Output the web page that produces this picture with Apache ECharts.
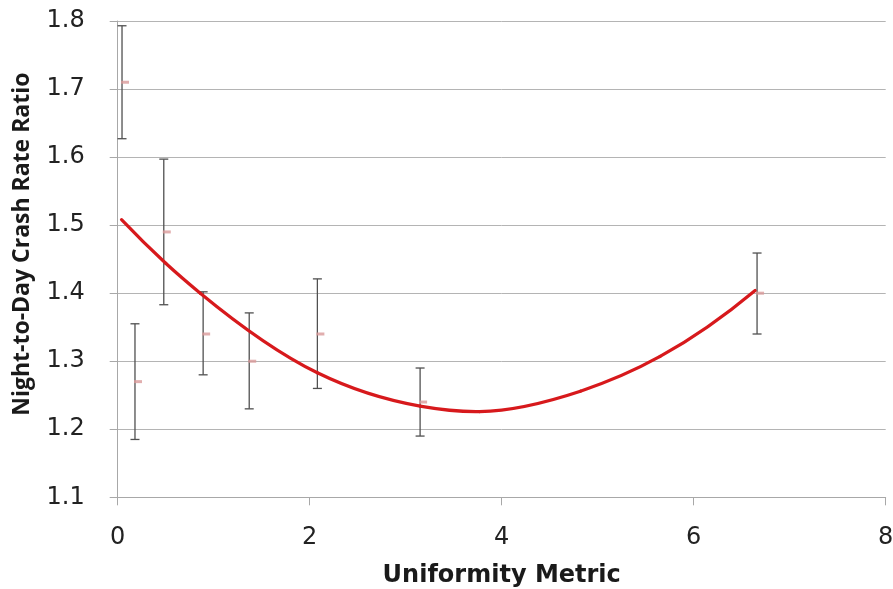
<!DOCTYPE html>
<html>
<head>
<meta charset="utf-8">
<script src="https://cdn.jsdelivr.net/npm/echarts@6/dist/echarts.min.js"></script>
<style>html,body{margin:0;padding:0;background:#fff}#c{width:893px;height:589px}</style>
</head>
<body>
<div id="c"></div>
<script>
// Observed points: uniformity metric, mean ratio, lower, upper
var xs    = [0.045, 0.48, 0.18, 0.89, 1.37, 2.08, 3.15, 6.66];
var means = [1.71, 1.49, 1.27, 1.34, 1.30, 1.34, 1.24, 1.40];
var lows  = [1.627, 1.383, 1.185, 1.28, 1.23, 1.26, 1.19, 1.34];
var highs = [1.793, 1.597, 1.355, 1.402, 1.371, 1.421, 1.29, 1.459];
// Fitted curve
var fitX = [0.04, 0.5, 0.86, 2.08, 3.15, 3.77, 4.82, 5.65, 6.64];
var fitY = [1.508, 1.444, 1.400, 1.283, 1.234, 1.226, 1.256, 1.307, 1.404];
var xTicks = [0, 2, 4, 6, 8];
var yTicks = [1.1, 1.2, 1.3, 1.4, 1.5, 1.6, 1.7, 1.8];

var pts = xs.map(function(x, i){ return [x, means[i]]; });
var bars = xs.map(function(x, i){ return [x, lows[i], highs[i]]; });
var fit = fitX.map(function(x, i){ return [x, fitY[i]]; });

var chart = echarts.init(document.getElementById('c'), null, {renderer: 'canvas'});
var tickFont = '"DejaVu Sans", sans-serif';

function tangents(P){
  var n = P.length, d = [], h = [], m = [];
  for (var i = 0; i < n - 1; i++){ h[i] = P[i+1][0] - P[i][0]; d[i] = (P[i+1][1] - P[i][1]) / h[i]; }
  for (var j = 1; j < n - 1; j++){ m[j] = (d[j-1]*h[j] + d[j]*h[j-1]) / (h[j-1] + h[j]); }
  m[0] = 2*d[0] - m[1];
  m[n-1] = 2*d[n-2] - m[n-2];
  return m;
}

chart.setOption({
  animation: false,
  backgroundColor: '#ffffff',
  grid: {left: 117.7, right: 7.3, top: 21, bottom: 91.7, outerBoundsMode: 'none', containLabel: false},
  xAxis: {
    type: 'value', min: 0, max: 8, interval: 2,
    name: 'Uniformity Metric', nameLocation: 'middle', nameGap: 66,
    nameTextStyle: {fontFamily: '"DejaVu Sans", sans-serif', fontWeight: 'bold', fontSize: 24, color: '#1a1a1a'},
    axisLine: {show: true, lineStyle: {color: '#a8a8a8', width: 1}},
    axisTick: {show: true, length: 8, lineStyle: {color: '#a8a8a8'}},
    axisLabel: {fontFamily: tickFont, fontSize: 24, color: '#222', margin: 28,
      formatter: function(v){ return xTicks.indexOf(v) >= 0 ? String(v) : ''; }},
    splitLine: {show: false}
  },
  yAxis: {
    type: 'value', min: 1.1, max: 1.8, interval: 0.1,
    name: 'Night-to-Day Crash Rate Ratio', nameLocation: 'middle', nameGap: 84, nameRotate: 90,
    nameTextStyle: {fontFamily: '"Open Sans", sans-serif', fontWeight: 'bold', fontSize: 23, color: '#1a1a1a',
      padding: [0, 0, 0, 30]},
    axisLine: {show: true, lineStyle: {color: '#a8a8a8', width: 1}},
    axisTick: {show: true, length: 8, lineStyle: {color: '#a8a8a8'}},
    axisLabel: {fontFamily: tickFont, fontSize: 24, color: '#222', margin: 33,
      formatter: function(v){ var r = Math.round(v*10)/10; return yTicks.indexOf(r) >= 0 ? r.toFixed(1) : ''; }},
    splitLine: {show: true, lineStyle: {color: '#b4b4b4', width: 1}}
  },
  series: [
    {
      type: 'custom', name: 'err', data: bars, z: 3,
      renderItem: function(params, api){
        var x = api.value(0);
        var lo = api.coord([x, api.value(1)]);
        var hi = api.coord([x, api.value(2)]);
        var hw = 4.5;
        var st = {stroke: '#505050', lineWidth: 1.3};
        return {type: 'group', children: [
          {type: 'line', shape: {x1: lo[0], y1: lo[1], x2: hi[0], y2: hi[1]}, style: st},
          {type: 'line', shape: {x1: lo[0]-hw, y1: lo[1], x2: lo[0]+hw, y2: lo[1]}, style: st},
          {type: 'line', shape: {x1: hi[0]-hw, y1: hi[1], x2: hi[0]+hw, y2: hi[1]}, style: st}
        ]};
      }
    },
    {
      // fitted curve: smooth Hermite spline through the read points, positioned by the axes
      type: 'custom', name: 'fit', data: fit, z: 4,
      renderItem: function(params, api){
        var i = params.dataIndex;
        if (i >= fit.length - 1) return null;
        var P = fit.map(function(p){ return api.coord(p); });
        var m = tangents(P);
        var a = P[i], b = P[i+1], h = (b[0] - a[0]) / 3;
        return {
          type: 'bezierCurve',
          shape: {
            x1: a[0], y1: a[1], x2: b[0], y2: b[1],
            cpx1: a[0] + h, cpy1: a[1] + m[i]*h,
            cpx2: b[0] - h, cpy2: b[1] - m[i+1]*h
          },
          style: {stroke: '#d7191c', lineWidth: 3.2, fill: null, lineCap: 'round'}
        };
      }
    },
    {
      type: 'scatter', name: 'mean', data: pts, z: 5,
      symbol: 'rect', symbolSize: [8, 3], symbolOffset: [3, 0],
      itemStyle: {color: '#d99a9a'}
    }
  ]
});
</script>
</body>
</html>
